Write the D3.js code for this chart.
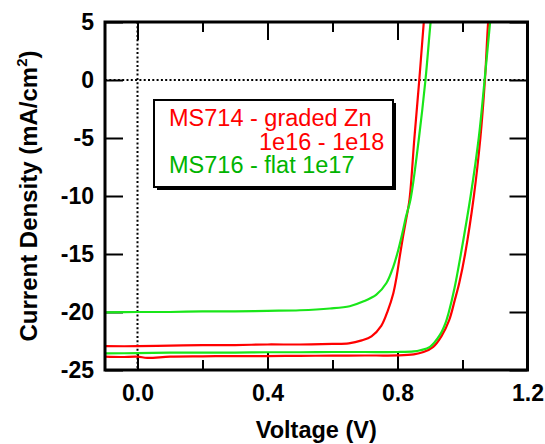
<!DOCTYPE html>
<html>
<head>
<meta charset="utf-8">
<script src="https://cdn.jsdelivr.net/npm/d3@7"></script>
<style>
    body { margin: 0; background: white; }
    svg text { font-family: "Liberation Sans", Arial, Helvetica, sans-serif; }
</style>
</head>
<body>
<div id="chart"></div>
<script>

// MS714 - graded Zn, lower curve (Voc ~0.87)
let ms714aV = [-0.1, 0.0, 0.1, 0.2, 0.3, 0.4, 0.5, 0.6, 0.65, 0.69, 0.72, 0.75, 0.77, 0.787, 0.797, 0.807, 0.817, 0.828, 0.837, 0.852, 0.867, 0.881, 0.89];
let ms714aJ = [-22.95, -22.95, -22.9, -22.85, -22.85, -22.8, -22.8, -22.75, -22.7, -22.45, -22.1, -21.2, -19.9, -18.4, -17.0, -15.2, -13.5, -11.8, -10.3, -5.0, 0, 5.03, 8];

// MS714 - graded Zn, outer curve (Voc ~1.07)
let ms714bV = [-0.1, -0.05, 0.0, 0.03, 0.1, 0.2, 0.3, 0.4, 0.5, 0.6, 0.7, 0.8, 0.85, 0.88, 0.91, 0.935, 0.959, 0.976, 0.990, 1.008, 1.035, 1.055, 1.069, 1.079, 1.09];
let ms714bJ = [-23.85, -23.88, -23.85, -23.95, -23.85, -23.82, -23.8, -23.8, -23.78, -23.76, -23.75, -23.74, -23.65, -23.45, -23.0, -22.1, -20.7, -19.0, -17.5, -15.0, -10.0, -5.0, 0, 5.03, 8.5];

// MS716 - flat 1e17, lower curve (Voc ~0.89)
let ms716aV = [-0.1, 0.0, 0.1, 0.2, 0.3, 0.4, 0.5, 0.592, 0.653, 0.694, 0.735, 0.766, 0.787, 0.802, 0.815, 0.826, 0.840, 0.866, 0.886, 0.902, 0.91];
let ms716aJ = [-20.03, -20.0, -20.0, -19.95, -19.95, -19.9, -19.85, -19.7, -19.5, -19.1, -18.5, -17.5, -16.1, -14.7, -13.2, -11.8, -10.3, -5.0, 0, 5.03, 7];

// MS716 - flat 1e17, outer curve (Voc ~1.07)
let ms716bV = [-0.1, 0.0, 0.1, 0.2, 0.3, 0.4, 0.5, 0.6, 0.7, 0.8, 0.85, 0.87, 0.90, 0.93, 0.947, 0.958, 0.975, 0.995, 1.025, 1.050, 1.068, 1.085, 1.095];
let ms716bJ = [-23.56, -23.55, -23.5, -23.5, -23.5, -23.47, -23.47, -23.45, -23.45, -23.45, -23.4, -23.3, -23.0, -22.0, -21.0, -20.0, -18.0, -15.0, -10.0, -5.0, 0, 5.0, 8];

// ticks
let xMajorTicks = [0, 0.4, 0.8, 1.2];
let xTickLabels = ["0.0", "0.4", "0.8", "1.2"];
let xMinorTicks = [0.2, 0.6, 1.0];
let yTicks = [5, 0, -5, -10, -15, -20, -25];
let yTickLabels = ["5", "0", "-5", "-10", "-15", "-20", "-25"];

let legendLines = [
    {text: "MS714 - graded Zn", color: "#ff0000", x: 169, y: 126},
    {text: "1e16 - 1e18", color: "#ff0000", x: 259, y: 150},
    {text: "MS716 - flat 1e17", color: "#00b400", x: 169, y: 173}
];

let red = "#ff0000";
let green = "#19e619";

let width = 545, height = 444;
let plot = {left: 105, right: 527.5, top: 22, bottom: 370};

let svg = d3.select("#chart").append("svg")
    .attr("width", width)
    .attr("height", height);

let x = d3.scaleLinear().domain([-0.1, 1.2]).range([plot.left, plot.right]);
let y = d3.scaleLinear().domain([-25, 5]).range([plot.bottom, plot.top]);

svg.append("defs").append("clipPath")
    .attr("id", "plotClip")
    .append("rect")
    .attr("x", plot.left)
    .attr("y", plot.top)
    .attr("width", plot.right - plot.left)
    .attr("height", plot.bottom - plot.top);

// dotted zero lines
svg.append("line")
    .attr("x1", x(0)).attr("x2", x(0))
    .attr("y1", plot.top).attr("y2", plot.bottom)
    .attr("stroke", "black").attr("stroke-width", 2)
    .attr("stroke-dasharray", "2,2.3");
svg.append("line")
    .attr("x1", plot.left).attr("x2", plot.right)
    .attr("y1", y(0)).attr("y2", y(0))
    .attr("stroke", "black").attr("stroke-width", 2)
    .attr("stroke-dasharray", "2,2.3");

// axes, ticks pointing inward
function styleAxis(g) {
    g.select(".domain").remove();
    g.selectAll(".tick line").attr("stroke", "black").attr("stroke-width", 2);
    g.selectAll(".tick text")
        .attr("fill", "black")
        .style("font-size", "23px")
        .style("font-weight", "bold");
}

svg.append("g")
    .attr("transform", `translate(0, ${plot.bottom})`)
    .call(d3.axisBottom(x).tickValues(xMajorTicks).tickSize(-18).tickPadding(15)
        .tickFormat((d, i) => xTickLabels[i]))
    .call(styleAxis);

svg.append("g")
    .attr("transform", `translate(0, ${plot.bottom})`)
    .call(d3.axisBottom(x).tickValues(xMinorTicks).tickSize(-10).tickFormat(""))
    .call(styleAxis);

svg.append("g")
    .attr("transform", `translate(0, ${plot.top})`)
    .call(d3.axisTop(x).tickValues(xMajorTicks).tickSize(-18).tickFormat(""))
    .call(styleAxis);

svg.append("g")
    .attr("transform", `translate(0, ${plot.top})`)
    .call(d3.axisTop(x).tickValues(xMinorTicks).tickSize(-10).tickFormat(""))
    .call(styleAxis);

svg.append("g")
    .attr("transform", `translate(${plot.left}, 0)`)
    .call(d3.axisLeft(y).tickValues(yTicks).tickSize(-18).tickPadding(11)
        .tickFormat((d, i) => yTickLabels[i]))
    .call(styleAxis);

svg.append("g")
    .attr("transform", `translate(${plot.right}, 0)`)
    .call(d3.axisRight(y).tickValues(yTicks).tickSize(-18).tickFormat(""))
    .call(styleAxis);

// curves
let line = d3.line()
    .x(d => x(d[0]))
    .y(d => y(d[1]))
    .curve(d3.curveCatmullRom.alpha(0.5));

let curves = [
    {v: ms714aV, j: ms714aJ, color: red},
    {v: ms714bV, j: ms714bJ, color: red},
    {v: ms716aV, j: ms716aJ, color: green},
    {v: ms716bV, j: ms716bJ, color: green}
];

svg.append("g")
    .attr("clip-path", "url(#plotClip)")
    .selectAll("path")
    .data(curves)
    .enter()
    .append("path")
    .attr("d", c => line(c.v.map((v, i) => [v, c.j[i]])))
    .attr("fill", "none")
    .attr("stroke", c => c.color)
    .attr("stroke-width", 2.2);

// frame
svg.append("rect")
    .attr("x", plot.left)
    .attr("y", plot.top)
    .attr("width", plot.right - plot.left)
    .attr("height", plot.bottom - plot.top)
    .attr("fill", "none")
    .attr("stroke", "black")
    .attr("stroke-width", 3);

// legend box with drop shadow
let legend = svg.append("g").attr("class", "legend");
legend.append("rect")
    .attr("x", 157).attr("y", 103)
    .attr("width", 239).attr("height", 87)
    .attr("fill", "black");
legend.append("rect")
    .attr("x", 154).attr("y", 100)
    .attr("width", 239).attr("height", 87)
    .attr("fill", "white")
    .attr("stroke", "black")
    .attr("stroke-width", 2);

legend.selectAll("text")
    .data(legendLines)
    .enter()
    .append("text")
    .attr("x", d => d.x)
    .attr("y", d => d.y)
    .attr("fill", d => d.color)
    .style("font-size", "23.5px")
    .text(d => d.text);

// axis titles
svg.append("text")
    .attr("x", (plot.left + plot.right) / 2)
    .attr("y", 438)
    .attr("text-anchor", "middle")
    .style("font-size", "23.5px")
    .style("font-weight", "bold")
    .text("Voltage (V)");

let yTitle = svg.append("text")
    .attr("transform", `translate(37, ${(plot.top + plot.bottom) / 2}) rotate(-90)`)
    .attr("text-anchor", "middle")
    .style("font-size", "24px")
    .style("font-weight", "bold");
yTitle.append("tspan").text("Current Density (mA/cm");
yTitle.append("tspan").attr("dy", -10).style("font-size", "15px").text("2");
yTitle.append("tspan").attr("dy", 10).text(")");

</script>
</body>
</html>
